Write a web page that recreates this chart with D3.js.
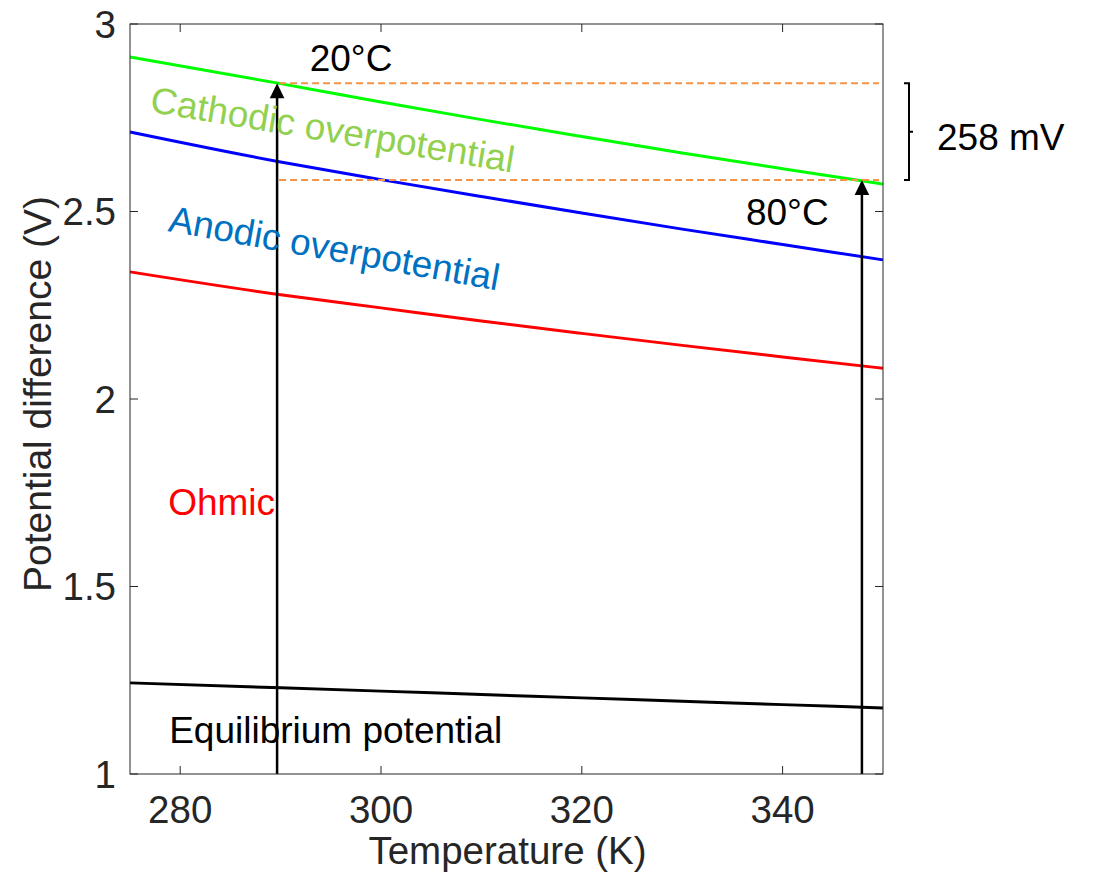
<!DOCTYPE html>
<html>
<head>
<meta charset="utf-8">
<script src="https://cdn.jsdelivr.net/npm/d3@7"></script>
<style>
  html, body { margin: 0; padding: 0; background: #fff; }
  svg { display: block; font-family: "Liberation Sans", Arial, sans-serif; }
</style>
</head>
<body>
<svg id="chart" width="1097" height="874"></svg>
<script>
// Cell voltage contributions versus temperature
const temperatureK = [275, 290, 300, 310, 320, 330, 340, 350];
const equilibriumV = [1.243, 1.230, 1.221, 1.212, 1.203, 1.194, 1.185, 1.176];
const ohmicV       = [2.339, 2.278, 2.243, 2.208, 2.175, 2.143, 2.112, 2.082];
const anodicV      = [2.712, 2.632, 2.585, 2.540, 2.496, 2.453, 2.412, 2.371];
const cathodicV    = [2.912, 2.841, 2.792, 2.745, 2.700, 2.656, 2.614, 2.573];

const xTicks = [280, 300, 320, 340];
const yTicks = [1, 1.5, 2, 2.5, 3];

// operating points: 20 °C and 80 °C
const opTemps  = [289.65, 347.9];
const opVolts  = [2.842, 2.584];
const opLabels = ["20°C", "80°C"];

const series = [
  { values: equilibriumV, color: "#000000" },
  { values: ohmicV,       color: "#ff0000" },
  { values: anodicV,      color: "#0000ff" },
  { values: cathodicV,    color: "#00ff00" }
];

const margin = { left: 130, top: 24, right: 214, bottom: 100 };
const W = 1097, H = 874;
const x = d3.scaleLinear().domain([275, 350]).range([margin.left, W - margin.right]);
const y = d3.scaleLinear().domain([1, 3]).range([H - margin.bottom, margin.top]);

const svg = d3.select("#chart");
const axisColor = "#262626";
const fontSize = 37;

// lines
const line = d3.line()
  .x((d, i) => x(temperatureK[i]))
  .y(d => y(d))
  .curve(d3.curveMonotoneX);

svg.append("g").selectAll("path").data(series).join("path")
  .attr("d", d => line(d.values))
  .attr("fill", "none")
  .attr("stroke", d => d.color)
  .attr("stroke-width", 3);

// dashed reference levels at both operating points
svg.append("g").selectAll("line").data(opVolts).join("line")
  .attr("x1", x(opTemps[0]) + 2)
  .attr("x2", x(349.6))
  .attr("y1", d => y(d)).attr("y2", d => y(d))
  .attr("stroke", "#f39448")
  .attr("stroke-width", 2)
  .attr("stroke-dasharray", "7,4");

// arrows rising from the equilibrium axis to the total voltage
const arrows = svg.append("g");
opTemps.forEach((t, i) => {
  const ax = x(t), top = y(opVolts[i]), bottom = y(1);
  arrows.append("line")
    .attr("x1", ax).attr("x2", ax)
    .attr("y1", bottom).attr("y2", top + 12)
    .attr("stroke", "#000").attr("stroke-width", 2.5);
  arrows.append("path")
    .attr("d", `M${ax},${top} L${ax - 7.3},${top + 15} L${ax + 7.3},${top + 15} Z`)
    .attr("fill", "#000");
});

// axes box with inward ticks
const axes = svg.append("g");
axes.append("rect")
  .attr("x", x(275)).attr("y", y(3))
  .attr("width", x(350) - x(275)).attr("height", y(1) - y(3))
  .attr("fill", "none").attr("stroke", axisColor).attr("stroke-width", 1);

const tickLen = 8;
xTicks.forEach(t => {
  axes.append("line").attr("x1", x(t)).attr("x2", x(t))
    .attr("y1", y(1)).attr("y2", y(1) - tickLen).attr("stroke", axisColor);
  axes.append("line").attr("x1", x(t)).attr("x2", x(t))
    .attr("y1", y(3)).attr("y2", y(3) + tickLen).attr("stroke", axisColor);
});
yTicks.forEach(v => {
  axes.append("line").attr("x1", x(275)).attr("x2", x(275) + tickLen)
    .attr("y1", y(v)).attr("y2", y(v)).attr("stroke", axisColor);
  axes.append("line").attr("x1", x(350)).attr("x2", x(350) - tickLen)
    .attr("y1", y(v)).attr("y2", y(v)).attr("stroke", axisColor);
});

// tick labels
axes.append("g").selectAll("text").data(xTicks).join("text")
  .attr("x", d => x(d)).attr("y", y(1) + 49)
  .attr("text-anchor", "middle")
  .attr("font-size", 38.5).attr("fill", axisColor)
  .text(d => d3.format("d")(d));

axes.append("g").selectAll("text").data(yTicks).join("text")
  .attr("x", x(275) - 14).attr("y", d => y(d) + 13.5)
  .attr("text-anchor", "end")
  .attr("font-size", 38.5).attr("fill", axisColor)
  .text(d => d3.format("~g")(d));

// axis titles
svg.append("text")
  .attr("x", (x(275) + x(350)) / 2 + 1).attr("y", 864)
  .attr("text-anchor", "middle")
  .attr("font-size", 38.5).attr("fill", axisColor)
  .text("Temperature (K)");

svg.append("text")
  .attr("transform", `translate(51,${(y(1) + y(3)) / 2 - 5}) rotate(-90)`)
  .attr("text-anchor", "middle")
  .attr("font-size", 39).attr("fill", axisColor)
  .text("Potential difference (V)");

// curve annotations
const notes = [
  { text: "Cathodic overpotential", t: 276.9, v: 2.766, angle: 9.5,  color: "#92d050" },
  { text: "Anodic overpotential",   t: 278.7, v: 2.448, angle: 10.2, color: "#0070c0" },
  { text: "Ohmic",                  t: 278.8, v: 1.691, angle: 0,    color: "#ff0000" },
  { text: "Equilibrium potential",  t: 278.9, v: 1.083, angle: 0,    color: "#000000" }
];
svg.append("g").selectAll("text").data(notes).join("text")
  .attr("transform", d => `translate(${x(d.t)},${y(d.v)}) rotate(${d.angle})`)
  .attr("font-size", fontSize)
  .attr("fill", d => d.color)
  .text(d => d.text);

// operating point labels
svg.append("text").attr("x", x(292.9)).attr("y", y(2.875))
  .attr("font-size", fontSize).attr("fill", "#000").text(opLabels[0]);
svg.append("text").attr("x", x(336.35)).attr("y", y(2.464))
  .attr("font-size", fontSize).attr("fill", "#000").text(opLabels[1]);

// brace spanning the voltage drop between the two operating points
const bx = x(350) + 26;
const yTop = y(opVolts[0]), yBot = y(opVolts[1]), yMid = (yTop + yBot) / 2;
svg.append("path")
  .attr("d", `M${bx - 5},${yTop} H${bx} V${yBot} H${bx - 5} M${bx},${yMid} H${bx + 4}`)
  .attr("fill", "none").attr("stroke", "#000").attr("stroke-width", 2);

const dropMv = Math.round((opVolts[0] - opVolts[1]) * 1000);
svg.append("text")
  .attr("x", bx + 28).attr("y", yMid + 18)
  .attr("font-size", fontSize).attr("fill", "#000")
  .text(`${dropMv} mV`);
</script>
</body>
</html>
